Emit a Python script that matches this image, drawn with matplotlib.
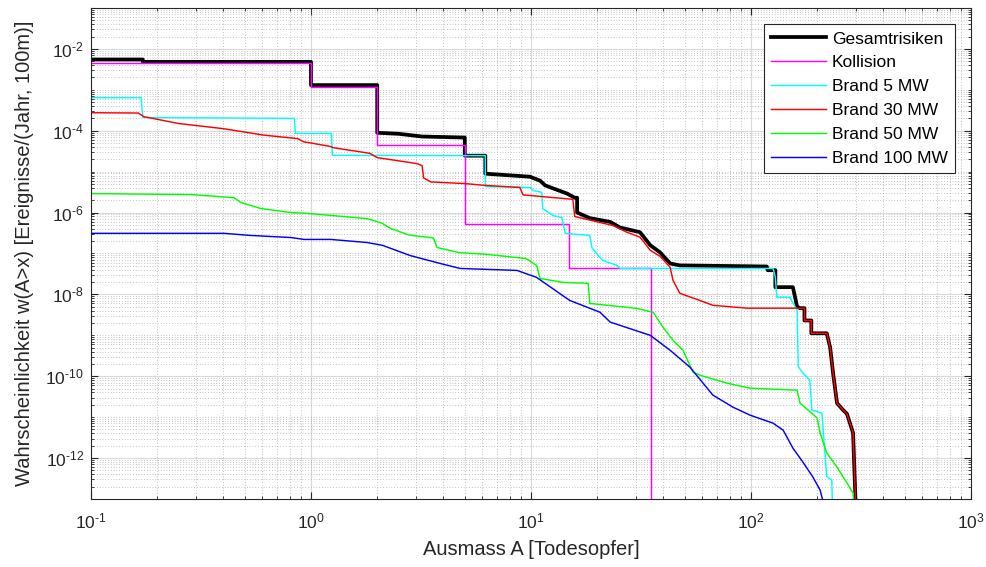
import numpy as np
import matplotlib
matplotlib.use("Agg")
import matplotlib.pyplot as plt
from matplotlib.ticker import LogLocator, NullFormatter, FuncFormatter

plt.rcParams['font.family'] = ['Liberation Sans', 'DejaVu Sans']
plt.rcParams['mathtext.default'] = 'regular'

# Ausmass A [Todesopfer] / Wahrscheinlichkeit w(A>x)
# shared end staircase of Gesamtrisiken and Brand 30 MW
tail_x = [175, 175, 188, 188, 221, 229, 236, 246, 262, 273, 291, 303]
tail_y = [4.6e-9, 2.3e-9, 2.3e-9, 1.12e-9, 1.12e-9, 5.0e-10, 1.2e-10, 2.2e-11,
          1.5e-11, 1.2e-11, 4.1e-12, 1e-14]

total_x = [0.1, 0.172, 0.172, 1.0, 1.0, 2.0, 2.0, 2.5, 3.2, 5.0, 5.0, 6.2, 6.2,
           9.9, 11.0, 11.6, 14.6, 15.8, 16.2, 16.2, 18.5, 22.9, 25.4, 31.3, 34.8,
           38.6, 42.9, 47.5, 118, 119, 129, 129, 155, 162, 167] + tail_x
total_y = [5.5e-3, 5.5e-3, 4.8e-3, 4.8e-3, 1.3e-3, 1.3e-3, 8.9e-5, 8.4e-5, 7.2e-5,
           6.8e-5, 2.45e-5, 2.45e-5, 8.9e-6, 7.5e-6, 6.0e-6, 4.6e-6, 2.9e-6, 2.3e-6,
           2.3e-6, 1.0e-6, 7.3e-7, 5.9e-7, 4.3e-7, 3.3e-7, 1.6e-7, 1.06e-7, 5.7e-8,
           5.1e-8, 4.8e-8, 3.9e-8, 3.9e-8, 1.5e-8, 1.5e-8, 5.0e-9, 4.6e-9] + tail_y

# Kollision (step function, steps-post)
koll_x = [0.1, 1.0, 2.0, 5.0, 14.9, 35.1]
koll_y = [4.4e-3, 1.2e-3, 4.55e-5, 5.1e-7, 4.3e-8, 1e-14]

b5_x = [0.1, 0.169, 0.172, 0.84, 0.85, 1.24, 1.25, 6.2, 6.2, 10.0, 10.2, 11.2, 11.3,
        12.6, 13.8, 14.3, 18.5, 18.9, 20.2, 21.2, 24.6, 25.4, 118, 126, 129, 131,
        150, 162, 164, 172, 185, 189, 210, 221, 233, 236]
b5_y = [6.4e-4, 6.4e-4, 2.1e-4, 2.0e-4, 8.6e-5, 8.6e-5, 2.5e-5, 2.45e-5, 4.3e-6,
        4.1e-6, 3.45e-6, 3.1e-6, 1.25e-6, 8.45e-7, 7.55e-7, 3.1e-7, 2.75e-7, 1.4e-7,
        8.9e-8, 6.75e-8, 5.1e-8, 4.3e-8, 4.3e-8, 4.3e-8, 2.6e-8, 8.5e-9, 8.5e-9,
        4.1e-9, 1.7e-10, 1.2e-10, 8.0e-11, 1.5e-11, 1.25e-11, 3.5e-13, 2.9e-13, 1e-14]

b30_x = [0.1, 0.164, 0.174, 0.25, 0.40, 0.61, 0.87, 0.93, 1.0, 1.23, 1.26, 1.85,
         2.0, 3.03, 3.2, 3.25, 3.5, 5.0, 6.2, 8.9, 9.2, 15.5, 15.8, 23.6, 27.3,
         31.3, 34.8, 38.6, 42.9, 44.2, 47.5, 58.6, 67.1, 95.9, 167] + tail_x
b30_y = [2.75e-4, 2.7e-4, 2.2e-4, 1.5e-4, 1.12e-4, 7.8e-5, 6.4e-5, 5.3e-5, 5.0e-5,
         4.1e-5, 3.85e-5, 2.8e-5, 2.2e-5, 1.57e-5, 1.4e-5, 7.0e-6, 5.6e-6, 5.1e-6,
         4.6e-6, 4.1e-6, 2.7e-6, 2.1e-6, 8.0e-7, 4.8e-7, 3.3e-7, 2.5e-7, 1.2e-7,
         8.5e-8, 4.6e-8, 2.2e-8, 1.06e-8, 7.1e-9, 5.4e-9, 4.6e-9, 4.6e-9] + tail_y

b50_x = [0.1, 0.285, 0.447, 0.481, 0.593, 0.81, 0.97, 1.8, 2.1, 2.3, 2.8, 3.6, 3.74,
         4.7, 6.3, 9.5, 10.6, 11.0, 14.0, 18.2, 18.5, 30.3, 35.9, 39.8, 44.2, 49.1,
         54.5, 58.6, 77.8, 98.9, 162, 167, 200, 206, 221, 246, 273, 291, 303]
b50_y = [2.9e-6, 2.75e-6, 2.3e-6, 1.75e-6, 1.25e-6, 1.0e-6, 9.5e-7, 7.1e-7, 5.5e-7,
         4.1e-7, 2.8e-7, 2.4e-7, 1.4e-7, 1.05e-7, 9.5e-8, 7.5e-8, 5.1e-8, 2.45e-8,
         1.96e-8, 1.86e-8, 6.0e-9, 4.55e-9, 3.65e-9, 1.57e-9, 7.55e-10, 4.3e-10,
         1.25e-10, 1.06e-10, 6.75e-11, 5.1e-11, 4.55e-11, 2.2e-11, 9.5e-12, 4.1e-12,
         1.33e-12, 6.0e-13, 2.45e-13, 1.4e-13, 1e-14]

b100_x = [0.1, 0.403, 0.534, 0.811, 0.929, 1.23, 1.80, 2.12, 2.82, 3.86, 4.76, 8.63,
          10.6, 15.0, 20.6, 22.9, 34.8, 42.9, 52.8, 67.1, 82.8, 98.9, 126, 140, 155,
          172, 191, 206, 236]
b100_y = [3.1e-7, 3.1e-7, 2.75e-7, 2.45e-7, 2.2e-7, 2.2e-7, 1.85e-7, 1.57e-7, 8.9e-8,
          5.7e-8, 4.3e-8, 3.85e-8, 2.6e-8, 7.1e-9, 3.65e-9, 2.1e-9, 1.0e-9, 4.3e-10,
          1.66e-10, 3.45e-11, 1.75e-11, 1.12e-11, 7.1e-12, 4.8e-12, 1.75e-12, 8.0e-13,
          3.45e-13, 1.66e-13, 1e-14]


def pow10(v, pos):
    # MATLAB style label with a short hyphen in the exponent
    e = int(round(np.log10(v)))
    sign = '\u2010' if e < 0 else ''
    return '$10^{%s%d}$' % (sign, abs(e))


fig = plt.figure(figsize=(9.87, 5.67), dpi=100)
ax = fig.add_axes([0.0922, 0.120, 0.8916, 0.866])

ax.plot(total_x, total_y, color='k', lw=2.7, label='Gesamtrisiken')
ax.plot(koll_x, koll_y, color='#ff00ff', lw=1.05, drawstyle='steps-post', label='Kollision')
ax.plot(b5_x, b5_y, color='#00ffff', lw=1.05, label='Brand 5 MW')
ax.plot(b30_x, b30_y, color='#ff0000', lw=1.05, label='Brand 30 MW')
ax.plot(b50_x, b50_y, color='#00ff00', lw=1.05, label='Brand 50 MW')
ax.plot(b100_x, b100_y, color='#0000ff', lw=1.05, label='Brand 100 MW')

ax.set_xscale('log')
ax.set_yscale('log')
ax.set_xlim(0.1, 1000)
ax.set_ylim(1e-13, 1e-1)

ax.set_xticks([0.1, 1, 10, 100, 1000])
ax.set_yticks([1e-12, 1e-10, 1e-8, 1e-6, 1e-4, 1e-2])
ax.xaxis.set_major_formatter(FuncFormatter(pow10))
ax.yaxis.set_major_formatter(FuncFormatter(pow10))
ax.yaxis.set_minor_locator(LogLocator(base=10, subs=np.arange(1, 10), numticks=100))
ax.yaxis.set_minor_formatter(NullFormatter())
ax.xaxis.set_minor_locator(LogLocator(base=10, subs=np.arange(2, 10), numticks=100))
ax.xaxis.set_minor_formatter(NullFormatter())

ax.grid(True, which='major', color='#d9d9d9', lw=0.8, ls='-')
ax.grid(True, which='minor', color='#8c8c8c', lw=0.5, ls=(0, (1, 3)))
ax.set_axisbelow(True)

ax.tick_params(which='both', direction='in', top=True, right=True, colors='#262626',
               labelsize=12.5)
ax.tick_params(which='major', length=5)
ax.tick_params(which='minor', length=2.5)
ax.tick_params(axis='x', pad=9)
ax.tick_params(axis='y', pad=5)
for s in ax.spines.values():
    s.set_color('#262626')
    s.set_linewidth(0.8)

ax.set_xlabel('Ausmass A [Todesopfer]', fontsize=14.5, color='#262626', labelpad=6)
ax.set_ylabel('Wahrscheinlichkeit w(A>x) [Ereignisse/(Jahr, 100m)]', fontsize=14.5,
              color='#262626', labelpad=8)

leg = ax.legend(loc='upper right', fontsize=12.5, frameon=True, fancybox=False,
                edgecolor='#262626', framealpha=1, borderaxespad=0.95,
                handlelength=3.2, handletextpad=0.3, labelspacing=0.5,
                borderpad=0.4)
leg.get_frame().set_linewidth(0.8)

fig.savefig('out.png', dpi=100)
